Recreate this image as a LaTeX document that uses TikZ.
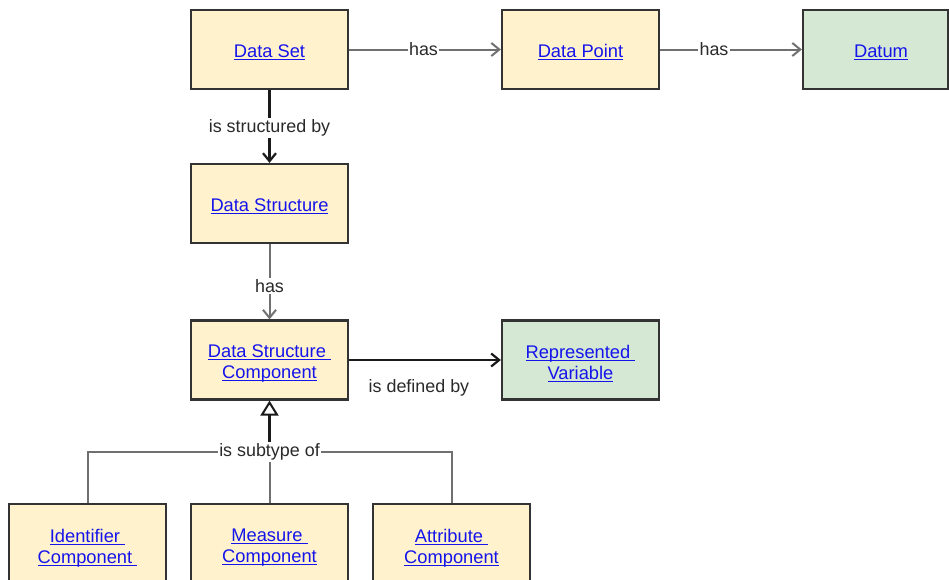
\documentclass[tikz,border=0pt]{standalone}
\usepackage{fontspec}
\setmainfont{Liberation Sans}
\usetikzlibrary{arrows.meta}
\definecolor{boxfill}{HTML}{FFF2CC}
\definecolor{greenfill}{HTML}{D5E8D4}
\definecolor{boxline}{HTML}{333333}
\definecolor{linkblue}{RGB}{20,20,235}
\definecolor{greyline}{HTML}{707070}
\definecolor{darkline}{HTML}{1A1A1A}
\definecolor{labeltext}{HTML}{2A2A2A}
\newsavebox{\lnkbox}
\newcommand{\lnk}[1]{\textcolor{linkblue}{\sbox{\lnkbox}{#1}\rlap{\rule[-2.4pt]{\wd\lnkbox}{1.1pt}}\usebox{\lnkbox}}}
\tikzset{
  entity/.style={draw=boxline, line width=2.2pt, fill=boxfill, minimum width=157pt, minimum height=79pt, inner sep=0pt},
  valuebox/.style={entity, fill=greenfill},
  etext/.style={align=center, inner sep=0pt, font=\fontsize{18.3}{21}\selectfont},
  greyconn/.style={draw=greyline, line width=2pt},
  darkconn/.style={draw=darkline, line width=2.6pt},
  barb/.style={-{Straight Barb[length=8pt, width=13pt, line width=2pt]}},
  darkbarb/.style={-{Straight Barb[length=8pt, width=13pt, line width=2.2pt]}},
  lbl/.style={fill=white, inner sep=1.5pt, text=labeltext, font=\fontsize{17.9}{21}\selectfont},
}
\begin{document}
\begin{tikzpicture}[x=1pt, y=-1pt]
\clip (0,0) rectangle (949,579);
\fill[white] (0,0) rectangle (949,579);
% nodes
\node[entity, label={[etext, yshift=-3pt]center:\lnk{Data Set}}] (ds) at (269.5,49.5) {};
\node[entity, label={[etext, yshift=-3pt]center:\lnk{Data Point}}] (dp) at (580.5,49.5) {};
\node[valuebox, minimum width=145pt, label={[etext, yshift=-3pt, xshift=5.5pt]center:\lnk{Datum}}] (datum) at (875.5,49.5) {};
\node[entity, label={[etext, yshift=-3pt]center:\lnk{Data Structure}}] (dstr) at (269.5,203.5) {};
\node[entity, label={[etext, yshift=-4pt]center:{\lnk{Data Structure\ }\\\lnk{Component}}}] (dsc) at (269.5,360) {};
\node[valuebox, label={[etext, yshift=-4pt]center:{\lnk{Represented\ }\\\lnk{Variable}}}] (rv) at (580.5,360) {};
\node[entity, minimum height=86pt, label={[etext, yshift=-1pt]center:{\lnk{Identifier\ }\\\lnk{Component\ }}}] (idc) at (87.5,547) {};
\node[entity, minimum height=86pt, label={[etext, yshift=-1pt]center:{\lnk{Measure\ }\\\lnk{Component}}}] (msc) at (269.5,547) {};
\node[entity, minimum height=86pt, label={[etext, yshift=-1pt]center:{\lnk{Attribute\ }\\\lnk{Component}}}] (atc) at (451.5,547) {};
\coordinate (j) at (269.5,452);
% connectors
\draw[greyconn, barb] (ds.east) -- node[lbl, pos=0.49] {has} (dp.west);
\draw[greyconn, barb] (dp.east) -- node[lbl, pos=0.38] {has} (datum.west);
\draw[darkconn, darkbarb] (ds.south) -- node[lbl, pos=0.5, yshift=-1.5pt] {is structured by} (dstr.north);
\draw[greyconn, barb] (dstr.south) -- node[lbl, pos=0.56] {has} (dsc.north);
\draw[darkconn, darkbarb] (dsc.east) -- node[text=labeltext, font=\fontsize{17.9}{21}\selectfont, pos=0.46, yshift=-28pt] {is defined by} (rv.west);
\draw[greyconn] (idc.north) |- (j);
\draw[greyconn] (atc.north) |- (j);
\draw[greyconn] (msc.north) -- (j);
\draw[darkconn, -{Triangle[open, length=15pt, width=18pt, line width=2pt, fill=white]}] (j) -- (dsc.south);
\node[lbl] (sublbl) at (j) {is subtype of};
\end{tikzpicture}
\end{document}
